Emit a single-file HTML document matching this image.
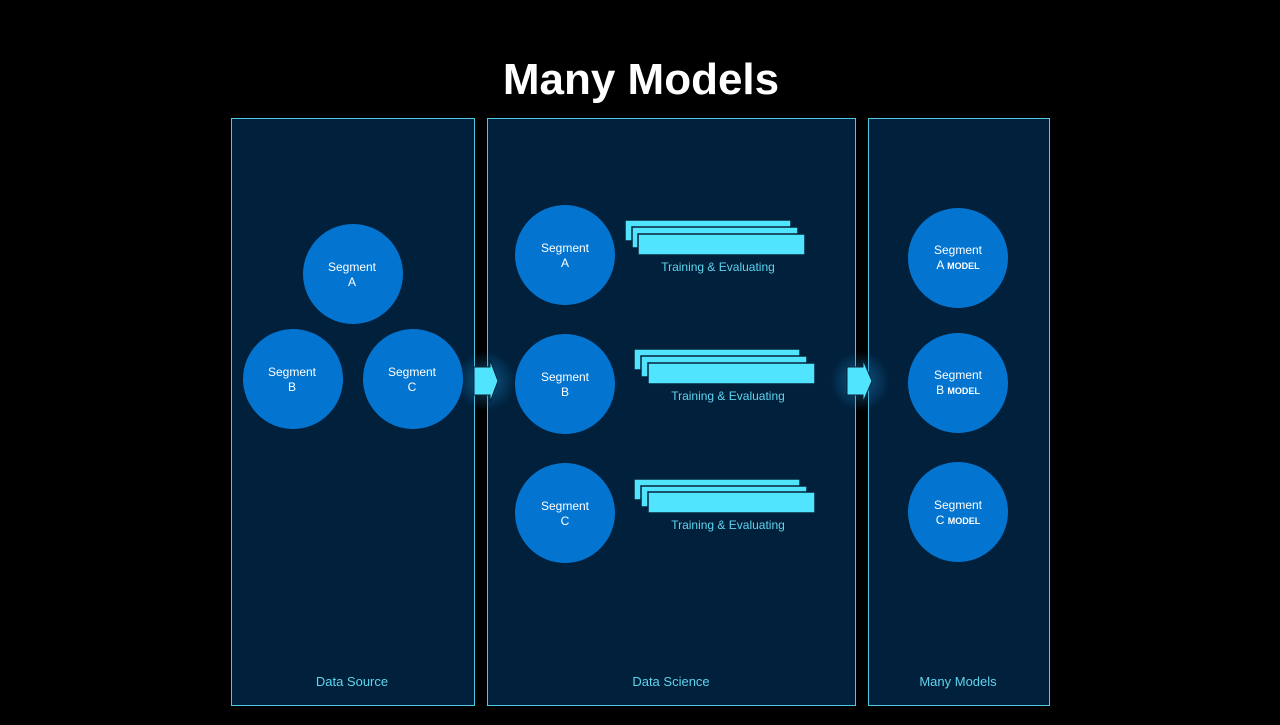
<!DOCTYPE html>
<html><head><style>
body{margin:0;background:#000;width:1280px;height:720px;overflow:hidden;font-family:"Liberation Sans",sans-serif}
</style></head><body>
<svg width="1280" height="720" xmlns="http://www.w3.org/2000/svg" font-family="Liberation Sans, sans-serif">
<defs>
<radialGradient id="g"><stop offset="0" stop-color="#1a7fc0" stop-opacity="0.6"/><stop offset="1" stop-color="#1a7fc0" stop-opacity="0"/></radialGradient>
</defs>
<rect width="1280" height="720" fill="#000"/>
<text x="641" y="94" text-anchor="middle" fill="#fff" font-size="44" font-weight="bold">Many Models</text>
<g fill="#00203b" stroke="#4fc6e6" stroke-width="1">
<rect x="231.5" y="118.5" width="243" height="587"/>
<rect x="487.5" y="118.5" width="368" height="587"/>
<rect x="868.5" y="118.5" width="181" height="587"/>
</g>
<circle cx="486" cy="381" r="30" fill="url(#g)"/>
<circle cx="860" cy="381" r="30" fill="url(#g)"/>
<g fill="#50e4ff" stroke="#06223a" stroke-width="1">
<polygon points="474,367 490,367 490,360 498,381 490,402 490,395 474,395"/>
<polygon points="847,367 863,367 863,360 872,381 863,402 863,395 847,395"/>
</g>
<g fill="#0375d1">
<circle cx="353" cy="274" r="50"/><circle cx="293" cy="379" r="50"/><circle cx="413" cy="379" r="50"/>
<circle cx="565" cy="255" r="50"/><circle cx="565" cy="384" r="50"/><circle cx="565" cy="513" r="50"/>
<circle cx="958" cy="258" r="50"/><circle cx="958" cy="383" r="50"/><circle cx="958" cy="512" r="50"/>
</g>
<g fill="#fff" font-size="12" text-anchor="middle">
<text x="352" y="271">Segment</text><text x="352" y="286">A</text>
<text x="292" y="376">Segment</text><text x="292" y="391">B</text>
<text x="412" y="376">Segment</text><text x="412" y="391">C</text>
<text x="565" y="252">Segment</text><text x="565" y="267">A</text>
<text x="565" y="381">Segment</text><text x="565" y="396">B</text>
<text x="565" y="510">Segment</text><text x="565" y="525">C</text>
<text x="958" y="254">Segment</text><text x="958" y="269">A <tspan font-size="9" font-weight="bold">MODEL</tspan></text>
<text x="958" y="379">Segment</text><text x="958" y="394">B <tspan font-size="9" font-weight="bold">MODEL</tspan></text>
<text x="958" y="509">Segment</text><text x="958" y="524">C <tspan font-size="9" font-weight="bold">MODEL</tspan></text>
</g>
<g fill="#50e4ff" stroke="#06223a" stroke-width="1.5">
<rect x="625" y="220" width="166" height="21"/><rect x="632" y="227" width="166" height="21"/><rect x="638" y="234" width="167" height="21"/>
<rect x="634" y="349" width="166" height="21"/><rect x="641" y="356" width="166" height="21"/><rect x="648" y="363" width="167" height="21"/>
<rect x="634" y="479" width="166" height="21"/><rect x="641" y="486" width="166" height="21"/><rect x="648" y="492" width="167" height="21"/>
</g>
<g fill="#5fd4f0" font-size="12" text-anchor="middle">
<text x="718" y="271">Training &amp; Evaluating</text>
<text x="728" y="400">Training &amp; Evaluating</text>
<text x="728" y="529">Training &amp; Evaluating</text>
<text x="352" y="686" font-size="13">Data Source</text>
<text x="671" y="686" font-size="13">Data Science</text>
<text x="958" y="686" font-size="13">Many Models</text>
</g>
</svg>
</body></html>
